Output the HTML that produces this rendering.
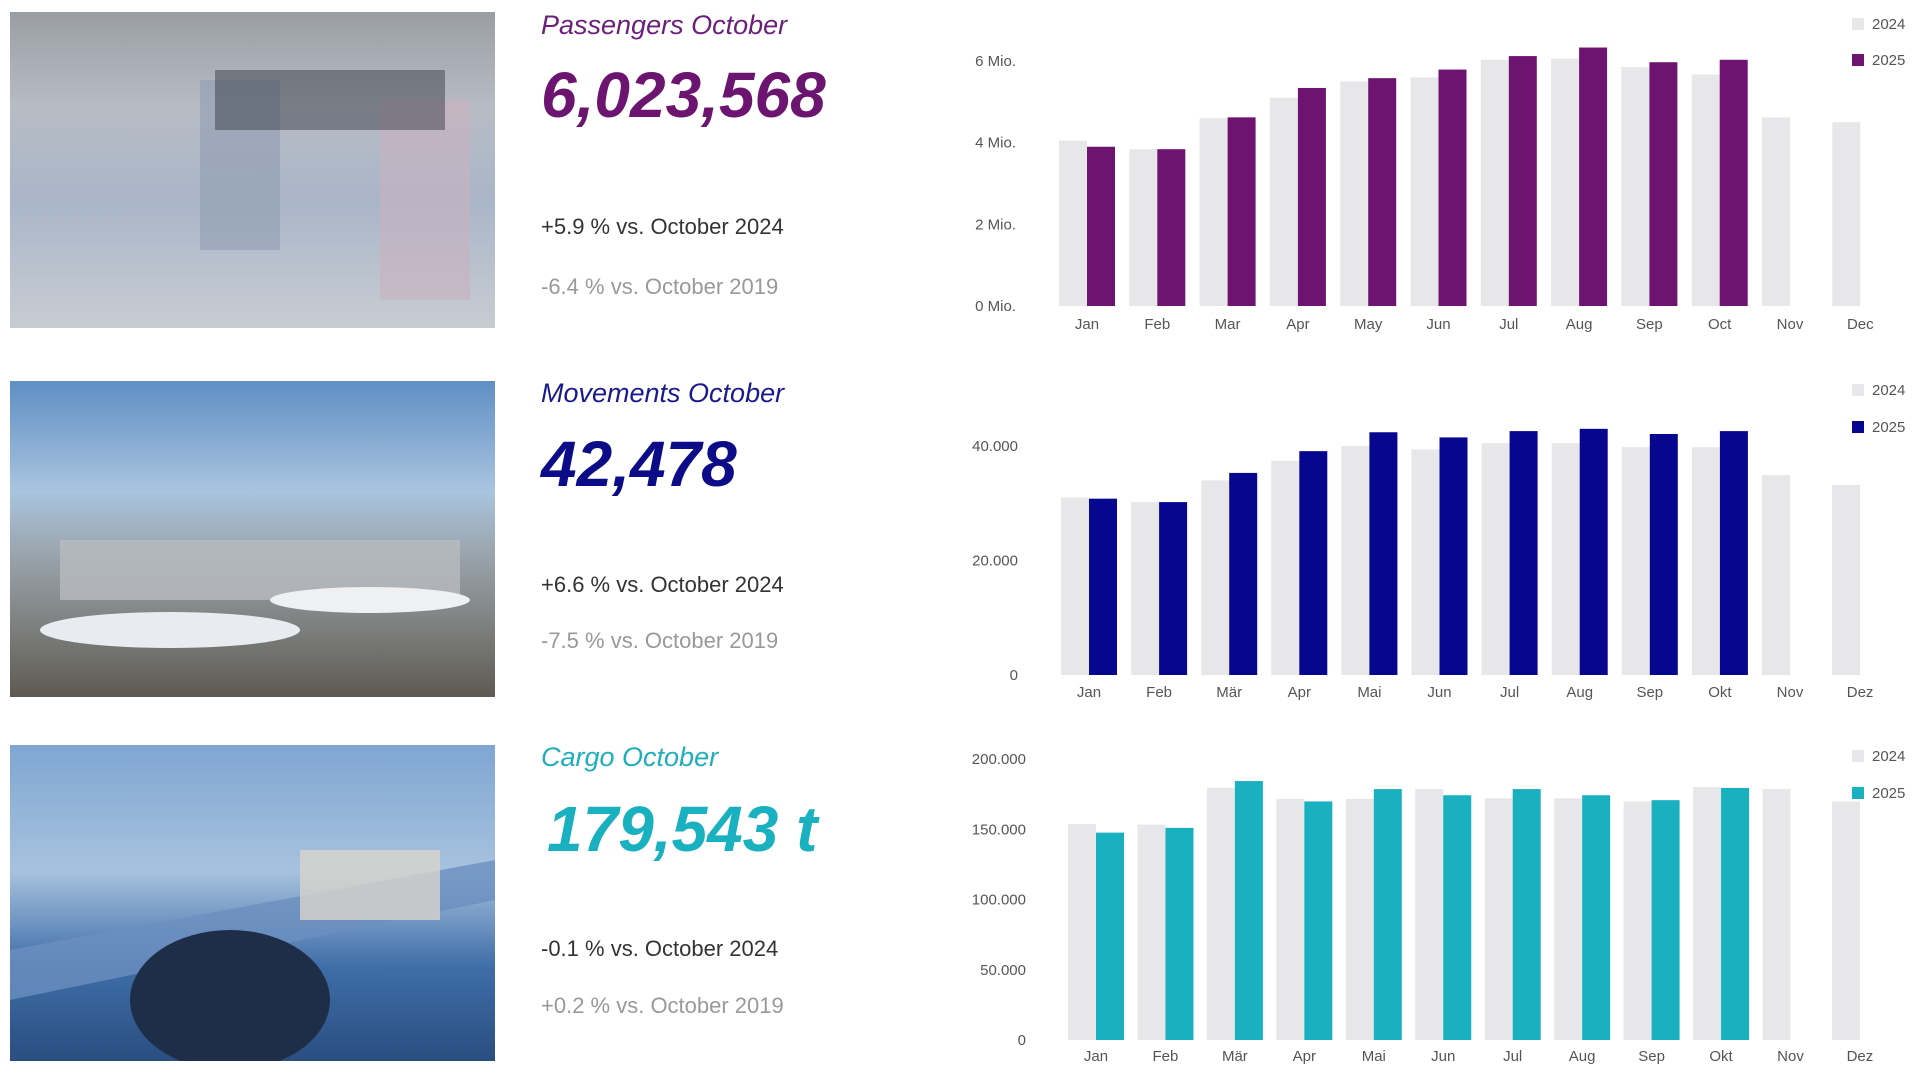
<!DOCTYPE html>
<html><head><meta charset="utf-8">
<style>
html,body{margin:0;padding:0;background:#fff;width:1920px;height:1080px;overflow:hidden;font-family:"Liberation Sans",sans-serif}
svg{position:absolute;left:0;top:0}
</style></head><body>
<svg id="s" width="1920" height="1080" viewBox="0 0 1920 1080" xmlns="http://www.w3.org/2000/svg">
<defs>
<linearGradient id="p1" x1="0" y1="0" x2="0" y2="1">
<stop offset="0" stop-color="#9a9ea4"/><stop offset="0.3" stop-color="#b7bcc4"/><stop offset="0.6" stop-color="#a9b6c8"/><stop offset="1" stop-color="#c8ccd2"/></linearGradient>
<linearGradient id="p2" x1="0" y1="0" x2="0" y2="1">
<stop offset="0" stop-color="#5f8fc4"/><stop offset="0.35" stop-color="#a9c4df"/><stop offset="0.55" stop-color="#9aa4ac"/><stop offset="0.8" stop-color="#7a7c7a"/><stop offset="1" stop-color="#5e5a52"/></linearGradient>
<linearGradient id="p3" x1="0" y1="0" x2="0" y2="1">
<stop offset="0" stop-color="#7fa6d2"/><stop offset="0.4" stop-color="#a7c2de"/><stop offset="0.7" stop-color="#3f6ea8"/><stop offset="1" stop-color="#2a4e80"/></linearGradient>
<clipPath id="c1"><rect x="10" y="12" width="485" height="316"/></clipPath>
<clipPath id="c2"><rect x="10" y="381" width="485" height="316"/></clipPath>
<clipPath id="c3"><rect x="10" y="745" width="485" height="316"/></clipPath>
</defs>
<g clip-path="url(#c1)">
<rect x="10" y="12" width="485" height="316" fill="url(#p1)"/>
<rect x="200" y="80" width="80" height="170" fill="#8f9cb2" opacity="0.6"/>
<rect x="380" y="100" width="90" height="200" fill="#c9b0bf" opacity="0.6"/>
<rect x="215" y="70" width="230" height="60" fill="#3a3e48" opacity="0.5"/>
</g>
<g clip-path="url(#c2)">
<rect x="10" y="381" width="485" height="316" fill="url(#p2)"/>
<rect x="60" y="540" width="400" height="60" fill="#b8bcc0" opacity="0.8"/>
<ellipse cx="170" cy="630" rx="130" ry="18" fill="#e8ecf0"/>
<ellipse cx="370" cy="600" rx="100" ry="13" fill="#eef0f2"/>
</g>
<g clip-path="url(#c3)">
<rect x="10" y="745" width="485" height="316" fill="url(#p3)"/>
<polygon points="10,950 495,860 495,900 10,1000" fill="#6c8fbf" opacity="0.8"/>
<ellipse cx="230" cy="1000" rx="100" ry="70" fill="#1e2e48"/>
<rect x="300" y="850" width="140" height="70" fill="#d8d4cc" opacity="0.8"/>
</g>

<g font-style="italic">
<text x="541" y="34" font-size="27" fill="#6b1f7b">Passengers October</text>
<text x="541" y="117" font-size="64" font-weight="bold" fill="#6b1570">6,023,568</text>
<text x="541" y="402" font-size="27" fill="#1a1a8c">Movements October</text>
<text x="541" y="486" font-size="64" font-weight="bold" fill="#0c0c88">42,478</text>
<text x="541" y="766" font-size="27" fill="#20aebb">Cargo October</text>
<text x="547" y="851" font-size="64" font-weight="bold" fill="#19b0bf">179,543 t</text>
</g>
<g font-size="22">
<text x="541" y="234" fill="#333">+5.9 % vs. October 2024</text>
<text x="541" y="294" fill="#999">-6.4 % vs. October 2019</text>
<text x="541" y="592" fill="#333">+6.6 % vs. October 2024</text>
<text x="541" y="648" fill="#999">-7.5 % vs. October 2019</text>
<text x="541" y="956" fill="#333">-0.1 % vs. October 2024</text>
<text x="541" y="1013" fill="#999">+0.2 % vs. October 2019</text>
</g>
<g id="charts" font-size="15" fill="#555"></g>
</svg>
<script>
var g=document.getElementById('charts'),NS='http://www.w3.org/2000/svg';
function el(t,a,txt){var e=document.createElementNS(NS,t);for(var k in a)e.setAttribute(k,a[k]);if(txt)e.textContent=txt;g.appendChild(e);}
function chart(o){
 var sc=(o.y0-o.yT)/o.tMax;
 o.ticks.forEach(function(t){el('text',{x:o.yx,y:o.y0-t[0]*sc+5,'text-anchor':'end'},t[1]);});
 for(var i=0;i<12;i++){
  var c=o.c0+i*o.dx;
  var h=o.a[i]*sc; el('rect',{x:c-28,y:o.y0-h,width:28,height:h,fill:'#e7e7ea'});
  if(i<o.b.length){h=o.b[i]*sc; el('rect',{x:c,y:o.y0-h,width:28,height:h,fill:o.col});}
  el('text',{x:c,y:o.ly,'text-anchor':'middle'},o.m[i]);
 }
 el('rect',{x:1852,y:o.lg1-11,width:12,height:12,fill:'#e7e7ea'});
 el('text',{x:1872,y:o.lg1},'2024');
 el('rect',{x:1852,y:o.lg2-11,width:12,height:12,fill:o.col});
 el('text',{x:1872,y:o.lg2},'2025');
}
chart({y0:306,yT:61,tMax:6,yx:1016,c0:1087,dx:70.3,ly:329,lg1:29,lg2:65,col:'#6e1470',
 ticks:[[0,'0 Mio.'],[2,'2 Mio.'],[4,'4 Mio.'],[6,'6 Mio.']],
 a:[4.05,3.84,4.6,5.1,5.5,5.6,6.03,6.06,5.85,5.67,4.62,4.5],
 b:[3.9,3.84,4.62,5.34,5.58,5.79,6.12,6.33,5.97,6.03],
 m:['Jan','Feb','Mar','Apr','May','Jun','Jul','Aug','Sep','Oct','Nov','Dec']});
chart({y0:675,yT:446,tMax:40,yx:1018,c0:1089,dx:70.1,ly:697,lg1:395,lg2:432,col:'#06068f',
 ticks:[[0,'0'],[20,'20.000'],[40,'40.000']],
 a:[31,30.2,34,37.4,40,39.4,40.5,40.5,39.8,39.8,34.9,33.2],
 b:[30.8,30.2,35.3,39.1,42.4,41.5,42.6,43,42.1,42.6],
 m:['Jan','Feb','Mär','Apr','Mai','Jun','Jul','Aug','Sep','Okt','Nov','Dez']});
chart({y0:1040,yT:759,tMax:200,yx:1026,c0:1096,dx:69.45,ly:1061,lg1:761,lg2:798,col:'#19b0c0',
 ticks:[[0,'0'],[50,'50.000'],[100,'100.000'],[150,'150.000'],[200,'200.000']],
 a:[153.7,153.3,179.5,171.6,171.6,178.6,172,172,169.8,180,178.6,169.8],
 b:[147.6,151,184.3,169.8,178.6,174.2,178.6,174.2,170.7,179.4],
 m:['Jan','Feb','Mär','Apr','Mai','Jun','Jul','Aug','Sep','Okt','Nov','Dez']});
</script>
</body></html>
